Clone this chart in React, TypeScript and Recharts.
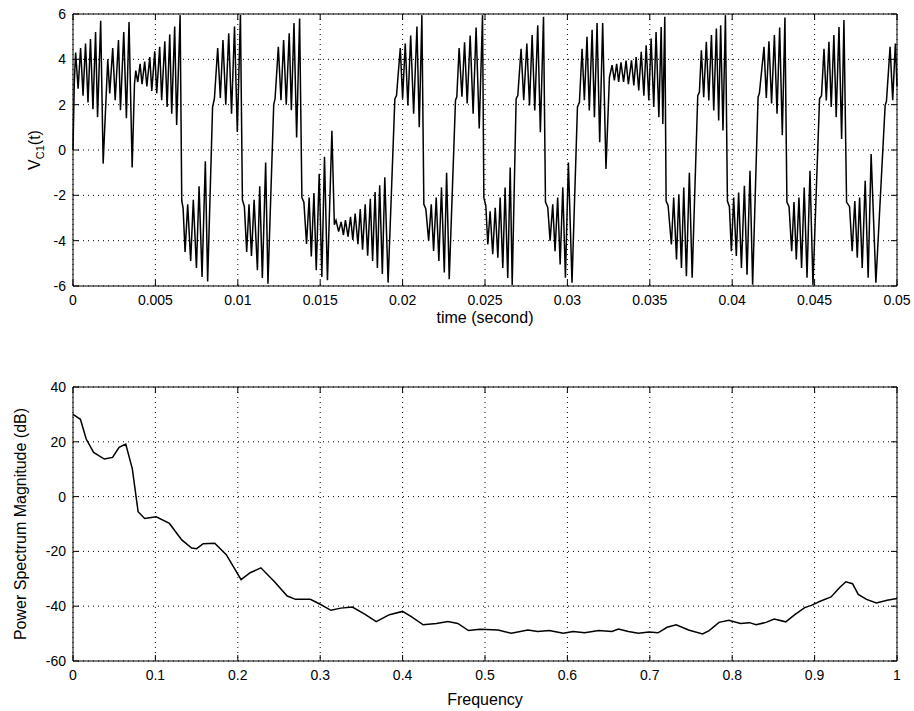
// App.tsx
import { LineChart, Line, XAxis, YAxis, CartesianGrid, ReferenceArea, Label } from "recharts";

// V_C1(t): peaks / troughs, [time (s), volts]
const vcWin1: [number, number][] = [
  [0, 0], [0.00008, 3.0], [0.00016, 4.3], [0.00031, 2.7], [0.00046, 4.5], [0.00061, 2.4],
  [0.00076, 4.7], [0.00091, 2.1], [0.00106, 4.9], [0.00121, 1.8], [0.00137, 5.2], [0.00149, 1.45],
  [0.00168, 5.7], [0.00183, -0.6], [0.00211, 4.0], [0.00223, 2.5], [0.00241, 4.5], [0.00256, 2.2],
  [0.00276, 4.85], [0.00288, 1.75], [0.00308, 5.2], [0.00324, 1.4], [0.0034, 5.65], [0.00359, -0.77],
  [0.00373, 2.9], [0.00381, 3.5], [0.00393, 3.0], [0.00407, 3.8], [0.00419, 2.9], [0.00435, 3.9],
  [0.00448, 2.8], [0.00466, 4.1], [0.00478, 2.6], [0.00496, 4.35], [0.00508, 2.5], [0.00526, 4.55],
  [0.00538, 2.2], [0.00557, 4.8], [0.00571, 1.9], [0.00587, 5.1], [0.00599, 1.6], [0.00617, 5.45],
  [0.00629, 1.1], [0.0065, 5.95], [0.0066, -2.25], [0.00668, -2.55], [0.0068, -4.5], [0.00696, -2.4],
  [0.00714, -4.9], [0.0073, -2.2], [0.00749, -5.2], [0.00765, -1.6], [0.00783, -5.6], [0.00803, -0.5],
  [0.00817, -5.8], [0.00847, 1.9], [0.00858, 2.26], [0.00878, 4.5], [0.00894, 2.3], [0.0091, 4.85],
  [0.00927, 2.0], [0.00945, 5.15], [0.00962, 1.6], [0.0098, 5.45], [0.00997, 0.8],
];

const vcWin2: [number, number][] = [
  [0.01016, 5.95], [0.01028, -2.2], [0.0104, -2.5], [0.01054, -4.5], [0.01068, -2.4], [0.01083, -4.67],
  [0.01099, -2.2], [0.01119, -5.3], [0.01133, -1.6], [0.01149, -5.65], [0.01169, -0.55], [0.01183, -5.9],
  [0.01218, 2.0], [0.01226, 2.25], [0.01246, 4.55], [0.01262, 2.2], [0.01278, 4.85], [0.01294, 2.0],
  [0.01312, 5.15], [0.01325, 1.75], [0.01341, 5.6], [0.01357, 0.55], [0.01375, 5.8], [0.01389, -2.1],
  [0.01401, -2.3], [0.01417, -4.15], [0.01433, -2.1], [0.01446, -4.7], [0.01462, -1.9], [0.01476, -5.3],
  [0.01494, -1.05], [0.0151, -5.6], [0.01526, -0.3], [0.01544, -5.75], [0.01571, 0.85], [0.01586, -3.3],
  [0.01596, -3.1], [0.01612, -3.6], [0.01627, -3.17], [0.01641, -3.75], [0.01653, -3.09], [0.01669, -3.82],
  [0.01684, -2.95], [0.01698, -3.97], [0.01712, -2.8], [0.01729, -4.16], [0.01743, -2.6], [0.01757, -4.4],
  [0.01773, -2.4], [0.01788, -4.66], [0.01804, -2.15], [0.01818, -4.9], [0.01833, -1.85], [0.01847, -5.2],
  [0.01861, -1.56], [0.01877, -5.47], [0.01892, -1.2], [0.01912, -5.85], [0.01953, 2.25], [0.01963, 2.4],
  [0.01986, 4.5],
];

const vcWin3: [number, number][] = [
  [0.02, 2.26], [0.02016, 4.7], [0.02032, 1.96], [0.02049, 5.05], [0.02067, 1.6], [0.02087, 5.45],
  [0.02101, 1.0], [0.02117, 5.95], [0.02129, -2.4], [0.02141, -2.6], [0.02158, -4.0], [0.02174, -2.4],
  [0.02188, -4.45], [0.02204, -2.1], [0.0222, -4.9], [0.02236, -1.65], [0.02253, -5.4], [0.02267, -1.0],
  [0.02283, -5.7], [0.02321, 2.2], [0.02329, 2.35], [0.02343, 4.5], [0.0236, 2.35], [0.02376, 4.75],
  [0.02392, 2.05], [0.0241, 5.05], [0.02428, 1.6], [0.02446, 5.4], [0.02465, 0.95], [0.02485, 5.95],
  [0.02493, -2.1], [0.02505, -2.45], [0.02517, -4.17], [0.02531, -2.7], [0.02547, -4.6], [0.02562, -2.55],
  [0.02578, -4.75], [0.02592, -2.1], [0.02608, -5.2], [0.02622, -1.65], [0.02638, -5.65], [0.02653, -0.77],
  [0.02665, -5.95], [0.02689, 2.26], [0.02699, 2.4], [0.02719, 4.47], [0.02735, 2.2], [0.02754, 4.7],
  [0.0277, 1.96], [0.02786, 5.07], [0.02802, 1.74], [0.0282, 5.5], [0.02836, 0.78], [0.02855, 5.88],
  [0.02867, -2.3], [0.02881, -2.54], [0.02895, -4.0], [0.02911, -2.4], [0.02925, -4.46], [0.02941, -2.1],
  [0.02956, -5.05], [0.02972, -1.65], [0.02988, -5.64],
];

const vcWin4: [number, number][] = [
  [0.03006, -0.55], [0.03028, -5.86], [0.03061, 1.9], [0.03073, 2.1], [0.03089, 4.47], [0.03103, 2.2],
  [0.03119, 5.0], [0.03133, 1.74], [0.0315, 5.3], [0.03164, 1.45], [0.0318, 5.6], [0.03196, 0.34],
  [0.03214, 5.6], [0.03234, -0.84], [0.03255, 3.2], [0.03271, 3.74], [0.03285, 3.07], [0.03299, 3.8],
  [0.03311, 3.0], [0.03325, 3.87], [0.03341, 3.0], [0.03356, 3.94], [0.0337, 2.9], [0.03389, 3.96],
  [0.03403, 2.85], [0.03417, 4.1], [0.03433, 2.63], [0.03448, 4.33], [0.03464, 2.4], [0.03478, 4.62],
  [0.03494, 2.19], [0.03508, 4.92], [0.03524, 1.9], [0.03538, 5.2], [0.03555, 1.45], [0.03569, 5.43],
  [0.03579, 1.15], [0.03591, 5.88], [0.03599, -2.25], [0.03611, -2.45], [0.03631, -4.17], [0.03645, -2.1],
  [0.03662, -4.83], [0.03676, -1.95], [0.03692, -5.2], [0.03706, -1.65], [0.03722, -5.57], [0.0374, -1.0],
  [0.03757, -5.64], [0.03791, 2.4], [0.03801, 2.55], [0.03813, 4.4], [0.03827, 2.33], [0.03843, 4.77],
  [0.03858, 2.19], [0.03874, 5.07], [0.03888, 1.74], [0.03904, 5.36], [0.03918, 1.3], [0.0393, 5.5],
  [0.03944, 0.86], [0.03959, 5.95], [0.03971, -2.25], [0.03983, -2.5], [0.03995, -4.46],
];

const vcWin5: [number, number][] = [
  [0.04009, -2.1], [0.04025, -4.68], [0.04039, -1.88], [0.04056, -5.2], [0.04074, -1.58], [0.0409, -5.5],
  [0.04108, -0.92], [0.04124, -5.94], [0.04157, 2.33], [0.04165, 2.5], [0.04193, 4.55], [0.04207, 2.3],
  [0.04223, 4.8], [0.04239, 2.05], [0.04256, 5.07], [0.04272, 1.6], [0.04288, 5.4], [0.04304, 0.65],
  [0.0432, 5.85], [0.04332, -2.3], [0.04345, -2.5], [0.04361, -4.46], [0.04375, -2.3], [0.04389, -4.83],
  [0.04405, -2.1], [0.04421, -5.2], [0.04437, -1.65], [0.04454, -5.64], [0.04472, -0.92], [0.0449, -5.95],
  [0.0453, 2.26], [0.04542, 2.4], [0.04557, 4.47], [0.04571, 2.19], [0.04587, 4.77], [0.04601, 1.9],
  [0.04617, 5.07], [0.04631, 1.45], [0.04648, 5.43], [0.04664, 0.49], [0.04678, 5.73], [0.04694, -2.3],
  [0.04712, -2.5], [0.04728, -4.46], [0.04744, -2.25], [0.04759, -4.75], [0.04773, -2.1], [0.04789, -5.2],
  [0.04807, -1.36], [0.04825, -5.64], [0.04843, -0.18], [0.04872, -5.86], [0.04928, 1.96], [0.04936, 2.15],
  [0.04958, 4.55], [0.04974, 2.2], [0.0499, 4.7], [0.05, 2.8],
];

// power spectrum, [normalised frequency, dB]
const spectrum: [number, number][] = [
  [0, 30.0], [0.009, 28.2], [0.016, 21.0], [0.025, 16.1], [0.038, 13.7], [0.048, 14.3], [0.056, 18.0],
  [0.064, 19.2], [0.072, 10.1], [0.079, -5.5], [0.087, -8.0], [0.101, -7.4], [0.117, -9.8], [0.132, -15.8],
  [0.144, -18.8], [0.15, -19.0], [0.158, -17.2], [0.172, -17.0], [0.186, -21.2], [0.204, -30.3],
  [0.215, -27.8], [0.228, -26.0], [0.244, -30.9], [0.26, -36.3], [0.27, -37.5], [0.288, -37.5],
  [0.3, -39.3], [0.313, -41.5], [0.325, -40.7], [0.339, -40.3], [0.354, -42.9], [0.368, -45.6],
  [0.384, -43.1], [0.4, -41.9], [0.411, -43.9], [0.425, -46.8], [0.441, -46.3], [0.455, -45.6],
  [0.467, -46.3], [0.48, -48.9], [0.494, -48.4], [0.516, -48.7], [0.532, -49.9], [0.552, -48.7],
  [0.564, -49.2], [0.578, -48.9], [0.595, -49.9], [0.607, -49.2], [0.621, -49.7], [0.638, -48.9],
  [0.654, -49.2], [0.662, -48.3], [0.674, -49.2], [0.686, -49.9], [0.699, -49.4], [0.71, -49.7],
  [0.721, -47.7], [0.732, -46.8], [0.747, -48.7], [0.764, -50.1], [0.772, -48.9], [0.784, -45.9],
  [0.796, -45.1], [0.81, -46.3], [0.821, -46.0], [0.829, -46.8], [0.841, -45.9], [0.851, -44.7],
  [0.865, -45.7], [0.876, -43.1], [0.888, -40.5], [0.896, -39.7], [0.906, -38.3], [0.92, -36.6],
  [0.931, -33.0], [0.938, -31.1], [0.946, -31.8], [0.953, -35.7], [0.963, -37.5], [0.975, -38.8],
  [0.988, -37.8], [1.0, -37.2],
];

const timeTicks = [0, 0.005, 0.01, 0.015, 0.02, 0.025, 0.03, 0.035, 0.04, 0.045, 0.05];
const voltTicks = [-6, -4, -2, 0, 2, 4, 6];
const freqTicks = [0, 0.1, 0.2, 0.3, 0.4, 0.5, 0.6, 0.7, 0.8, 0.9, 1];
const dbTicks = [-60, -40, -20, 0, 20, 40];

const FONT = '"Liberation Sans", Arial, Helvetica, sans-serif';
const LABEL_SIZE = 16;

type Box = { left: number; right: number; top: number; bottom: number };

const topBox: Box = { left: 73, right: 897, top: 14, bottom: 286 };
const lowBox: Box = { left: 73, right: 897, top: 17, bottom: 291 };

const fmtNum = (v: number) => String(Number(v.toFixed(3)));

// matlab style: labels outside, tick marks pointing in on both sides of the box
function xTick(box: Box) {
  return (props: any) => {
    const { x, payload } = props;
    return (
      <g>
        <line x1={x} x2={x} y1={box.bottom} y2={box.bottom - 6} stroke="#000" />
        <line x1={x} x2={x} y1={box.top} y2={box.top + 6} stroke="#000" />
        <text x={x} y={box.bottom + 19} textAnchor="middle" fontSize={14} fontFamily={FONT} fill="#000">
          {fmtNum(payload.value)}
        </text>
      </g>
    );
  };
}

function yTick(box: Box) {
  return (props: any) => {
    const { y, payload } = props;
    return (
      <g>
        <line x1={box.left} x2={box.left + 6} y1={y} y2={y} stroke="#000" />
        <line x1={box.right} x2={box.right - 6} y1={y} y2={y} stroke="#000" />
        <text x={box.left - 7} y={y} dy="0.35em" textAnchor="end" fontSize={14} fontFamily={FONT} fill="#000">
          {fmtNum(payload.value)}
        </text>
      </g>
    );
  };
}

const topData = [...vcWin1, ...vcWin2, ...vcWin3, ...vcWin4, ...vcWin5].map(([t, v]) => ({ t, v }));
const lowData = spectrum.map(([f, db]) => ({ f, db }));

export default function App() {
  return (
    <div style={{ position: "absolute", left: 0, top: 0, width: 914, height: 711, background: "#fff" }}>
      <div style={{ position: "absolute", left: 0, top: 0 }}>
        <LineChart width={914} height={330} data={topData} margin={{ top: 14, right: 17, bottom: 4, left: 0 }}>
          <CartesianGrid stroke="#000" strokeDasharray="1 4" />
          <XAxis
            dataKey="t"
            type="number"
            domain={[0, 0.05]}
            ticks={timeTicks}
            interval={0}
            height={40}
            axisLine={false}
            tickLine={false}
            tick={xTick(topBox)}
          >
            <Label
              content={(p: any) => (
                <text
                  x={p.viewBox.x + p.viewBox.width / 2}
                  y={p.viewBox.y + 37}
                  textAnchor="middle"
                  fontSize={LABEL_SIZE}
                  fontFamily={FONT}
                  fill="#000"
                >
                  time (second)
                </text>
              )}
            />
          </XAxis>
          <YAxis
            type="number"
            domain={[-6, 6]}
            ticks={voltTicks}
            interval={0}
            width={73}
            axisLine={false}
            tickLine={false}
            tick={yTick(topBox)}
          >
            <Label
              content={() => (
                <text
                  transform={`translate(40, ${(topBox.top + topBox.bottom) / 2}) rotate(-90)`}
                  textAnchor="middle"
                  fontSize={LABEL_SIZE}
                  fontFamily={FONT}
                  fill="#000"
                >
                  V
                  <tspan fontSize={11} dy={4}>C1</tspan>
                  <tspan dy={-4}>(t)</tspan>
                </text>
              )}
            />
          </YAxis>
          <ReferenceArea x1={0} x2={0.05} y1={-6} y2={6} fill="none" stroke="#000" strokeWidth={1} ifOverflow="visible" />
          <Line
            dataKey="v"
            type="linear"
            stroke="#000"
            strokeWidth={1.5}
            dot={false}
            isAnimationActive={false}
          />
        </LineChart>
      </div>

      <div style={{ position: "absolute", left: 0, top: 370 }}>
        <LineChart width={914} height={341} data={lowData} margin={{ top: 17, right: 17, bottom: 10, left: 0 }}>
          <CartesianGrid stroke="#000" strokeDasharray="1 4" />
          <XAxis
            dataKey="f"
            type="number"
            domain={[0, 1]}
            ticks={freqTicks}
            interval={0}
            height={40}
            axisLine={false}
            tickLine={false}
            tick={xTick(lowBox)}
          >
            <Label
              content={(p: any) => (
                <text
                  x={p.viewBox.x + p.viewBox.width / 2}
                  y={p.viewBox.y + 44}
                  textAnchor="middle"
                  fontSize={LABEL_SIZE}
                  fontFamily={FONT}
                  fill="#000"
                >
                  Frequency
                </text>
              )}
            />
          </XAxis>
          <YAxis
            type="number"
            domain={[-60, 40]}
            ticks={dbTicks}
            interval={0}
            width={73}
            axisLine={false}
            tickLine={false}
            tick={yTick(lowBox)}
          >
            <Label
              content={() => (
                <text
                  transform={`translate(26, ${(lowBox.top + lowBox.bottom) / 2}) rotate(-90)`}
                  textAnchor="middle"
                  fontSize={LABEL_SIZE}
                  fontFamily={FONT}
                  fill="#000"
                >
                  Power Spectrum Magnitude (dB)
                </text>
              )}
            />
          </YAxis>
          <ReferenceArea x1={0} x2={1} y1={-60} y2={40} fill="none" stroke="#000" strokeWidth={1} ifOverflow="visible" />
          <Line
            dataKey="db"
            type="linear"
            stroke="#000"
            strokeWidth={1.5}
            dot={false}
            isAnimationActive={false}
          />
        </LineChart>
      </div>
    </div>
  );
}
